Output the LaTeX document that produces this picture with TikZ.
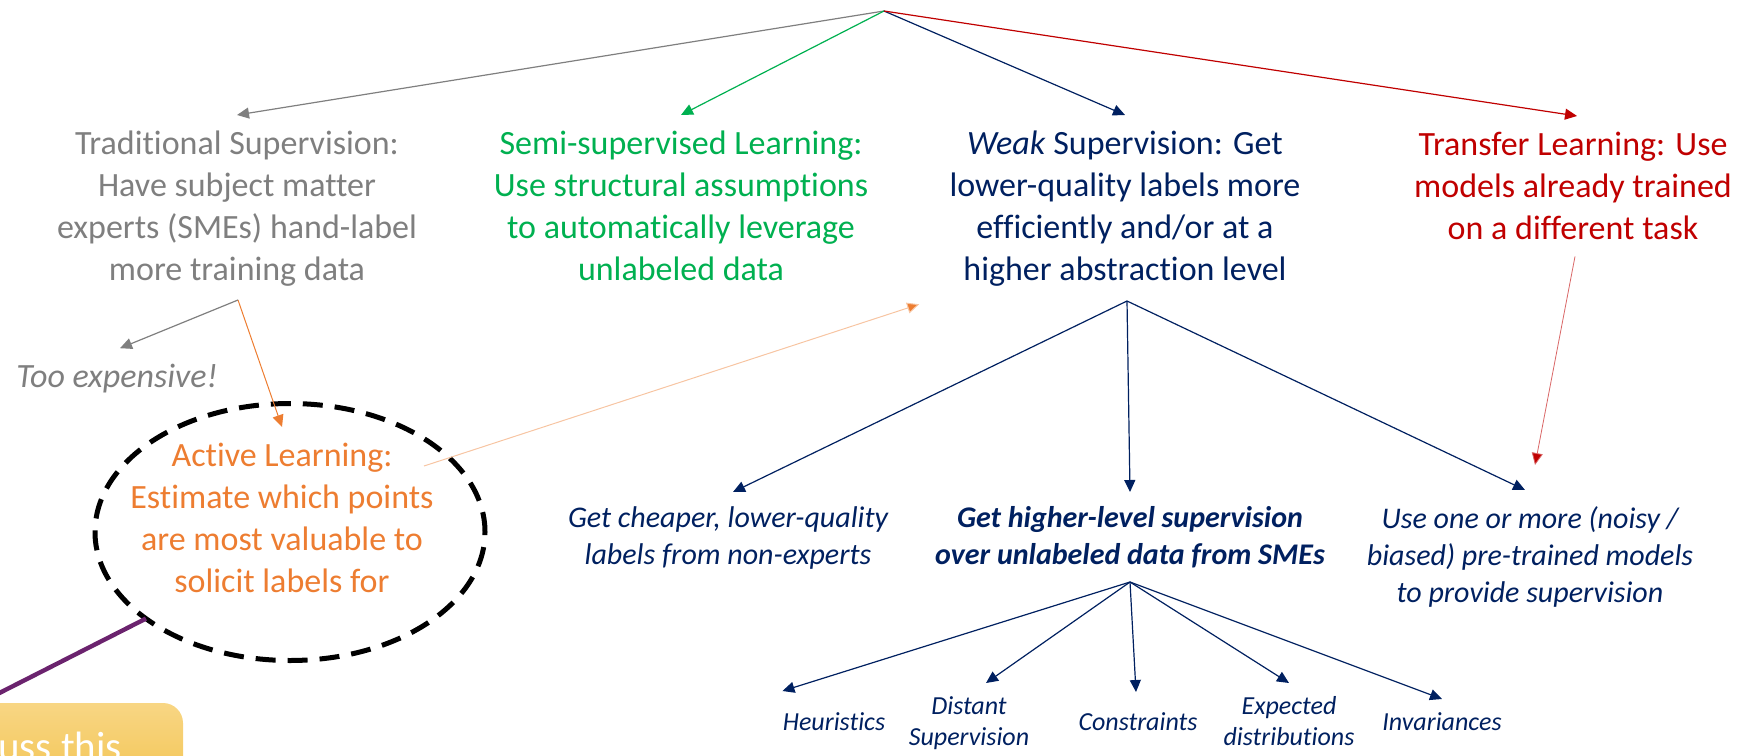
\documentclass[tikz,border=0pt]{standalone}
\usepackage{fontspec}
\setmainfont{Carlito}[Ligatures=NoCommon]
\usetikzlibrary{arrows.meta,shapes.geometric}

\definecolor{tgray}{HTML}{7F7F7F}
\definecolor{tgreen}{HTML}{00B050}
\definecolor{tnavy}{HTML}{002060}
\definecolor{tred}{HTML}{C00000}
\definecolor{torange}{HTML}{ED7D31}
\definecolor{tpurple}{HTML}{6B236E}
\definecolor{callouttop}{HTML}{F8D684}
\definecolor{calloutbot}{HTML}{F2C24C}

\tikzset{
  toptext/.style={font=\fontsize{17pt}{21pt}\selectfont, align=center, inner sep=0pt, anchor=north},
  midtext/.style={font=\fontsize{15pt}{18.5pt}\selectfont\itshape, align=center, inner sep=0pt, anchor=north, text=tnavy},
  lowtext/.style={font=\fontsize{13pt}{15.5pt}\selectfont\itshape, align=center, inner sep=0pt, anchor=north, text=tnavy},
  arr/.style={-{Triangle[length=6pt,width=5.5pt]}, line width=0.6pt}
}

\begin{document}
\begin{tikzpicture}[x=0.5pt,y=-0.5pt]
    \useasboundingbox (0,0) rectangle (1743,755);
    \clip (0,0) rectangle (1743,755);

    \coordinate (root) at (884,11);
    \node[toptext,text=tgray] (trad) at (237,130) {Traditional Supervision:\\Have subject matter\\experts (SMEs) hand-label\\more training data};
    \node[toptext,text=tgreen] (semi) at (681,130) {Semi-supervised Learning:\\Use structural assumptions\\to automatically leverage\\unlabeled data};
    \node[toptext,text=tnavy] (weak) at (1125,130) {\textit{Weak} Supervision: Get\\lower-quality labels more\\efficiently and/or at a\\higher abstraction level};
    \node[toptext,text=tred] (transfer) at (1573,132) {Transfer Learning: Use\\models already trained\\on a different task};

    \draw[arr,tgray] (root) -- ([yshift=7.5pt]trad.north);
    \draw[arr,tgreen] (root) -- ([yshift=7.5pt]semi.north);
    \draw[arr,tnavy] (root) -- ([yshift=7.5pt]weak.north);
    \draw[arr,tred] (root) -- ([xshift=2pt,yshift=8pt]transfer.north);

    % active learning branch
    \coordinate (tfork) at (238,300);
    \node[font=\fontsize{17pt}{21pt}\selectfont\itshape, text=tgray, inner sep=0pt, anchor=base] (tooexp) at (117,387) {Too expensive!};
    \node[toptext,text=torange] (active) at (282,443) {Active Learning:\\Estimate which points\\are most valuable to\\solicit labels for};
    \node[ellipse, draw, line width=2.5pt, dash pattern=on 10pt off 6pt, minimum width=195pt, minimum height=128.5pt, inner sep=0pt, outer sep=0pt] (alring) at (290,532) {};
    \draw[arr,tgray] (tfork) -- ([xshift=1.5pt,yshift=7.5pt]tooexp.north);
    \draw[arr,torange,line width=0.5pt] (tfork) -- ([yshift=8pt]active.north);
    \draw[arr,torange!45,line width=0.5pt,-{Triangle[length=6pt,width=5.5pt,fill=torange]}] ([shift={(-5pt,-11.5pt)}]active.north east) -- ([shift={(-15pt,-9pt)}]weak.south west);

    % callout
    \coordinate (pfar) at (-40,713);
    \draw[tpurple,line width=2.2pt] (alring.211) -- (pfar);
    \shade[top color=callouttop,bottom color=calloutbot,rounded corners=10pt] (-40,703) rectangle (183,800);
    \node[font=\fontsize{20.5pt}{24pt}\selectfont, text=white, inner sep=0pt, anchor=base west] (callouttxt) at (-2,760) {uss this};

    % weak supervision subtree
    \coordinate (wfork) at (1127,301);
    \node[midtext] (cheap) at (728,506) {Get cheaper, lower-quality\\labels from non-experts};
    \node[midtext,font=\fontsize{15pt}{18.5pt}\selectfont\bfseries\itshape] (sme) at (1130,506) {Get higher-level supervision\\over unlabeled data from SMEs};
    \node[midtext] (pre) at (1530,506) {Use one or more (noisy /\\biased) pre-trained models\\to provide supervision};
    \draw[arr,tnavy] (wfork) -- ([xshift=2.5pt,yshift=7pt]cheap.north);
    \draw[arr,tnavy] (wfork) -- ([yshift=7pt]sme.north);
    \draw[arr,tnavy] (wfork) -- ([xshift=-2.5pt,yshift=8pt]pre.north);
    \draw[arr,tred!60,line width=0.4pt,-{Triangle[length=6pt,width=5.5pt,fill=tred]}] ([xshift=1pt,yshift=-8pt]transfer.south) -- ([xshift=2.5pt,yshift=20.5pt]pre.north);

    \coordinate (sfork) at (1130,582);
    \node[lowtext] (heur) at (834,712) {Heuristics};
    \node[lowtext] (dist) at (969,696) {Distant\\Supervision};
    \node[lowtext] (cons) at (1138,712) {Constraints};
    \node[lowtext] (expd) at (1289,696) {Expected\\distributions};
    \node[lowtext] (inv) at (1442,712) {Invariances};
    \draw[arr,tnavy] (sfork) -- ([yshift=10.5pt]heur.north west);
    \draw[arr,tnavy] (sfork) -- ([xshift=8.5pt,yshift=6.5pt]dist.north);
    \draw[arr,tnavy] (sfork) -- ([xshift=-1pt,yshift=10pt]cons.north);
    \draw[arr,tnavy] (sfork) -- ([yshift=6.5pt]expd.north);
    \draw[arr,tnavy] (sfork) -- ([yshift=6.5pt]inv.north);
\end{tikzpicture}
\end{document}
